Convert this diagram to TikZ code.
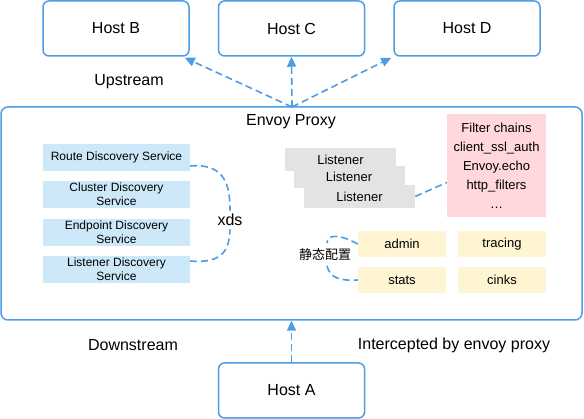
\documentclass[tikz,border=0pt]{standalone}
\usepackage{fontspec}
\setmainfont{Liberation Sans}
\newfontfamily\cjk{Noto Sans CJK SC}
\usepackage{tikz}
\usetikzlibrary{arrows, arrows.meta, positioning, shapes}
\definecolor{lineblue}{HTML}{4A9DE6}
\definecolor{dsblue}{HTML}{CCE8F9}
\definecolor{lsgray}{HTML}{E3E3E3}
\definecolor{fcpink}{HTML}{FFD7DC}
\definecolor{stylw}{HTML}{FFF5D2}

\begin{document}
\begin{tikzpicture}[x=1pt, y=-1pt,
  host/.style={draw=lineblue, line width=1.5pt, rounded corners=6pt, minimum width=146pt, minimum height=55pt, inner sep=0pt, font=\fontsize{16}{19}\selectfont},
  dsbox/.style={fill=dsblue, minimum width=147pt, minimum height=27pt, inner sep=0pt, align=center, font=\fontsize{12}{14}\selectfont},
  lsbox/.style={fill=lsgray, minimum width=111pt, minimum height=23pt, inner sep=0pt, font=\fontsize{13}{15}\selectfont},
  stbox/.style={fill=stylw, minimum width=88pt, minimum height=26pt, inner sep=0pt, font=\fontsize{13}{15}\selectfont},
  lbl/.style={font=\fontsize{16}{19}\selectfont},
  flow/.style={draw=lineblue, line width=1.6pt, dash pattern=on 7pt off 4pt},
  tip/.style={-{Triangle[length=10pt,width=9pt]}}]
\useasboundingbox (0,0) rectangle (584,419);

% hosts
\node (hb) [host] at (116,28.5) {Host B};
\node (hc) [host] at (291.5,28.5) {Host C};
\node (hd) [host] at (467,28.5) {Host D};
\node (ha) [host] at (291.5,390.5) {Host A};

% envoy
\node (envoy) [draw=lineblue, line width=1.5pt, rounded corners=7pt, minimum width=581pt, minimum height=213pt, inner sep=0pt] at (291.5,213.5) {};
\node (title) [lbl] at (291,122) {Envoy Proxy};
\coordinate (up) at (292,107);

\draw [flow, tip] (up) -- ([xshift=-5pt, yshift=-1pt]hb.south east);
\draw [flow, tip] (up) -- (hc.south);
\draw [flow, tip] (up) -- ([xshift=-2pt, yshift=-1pt]hd.south west);
\draw [flow, tip] (ha.north) -- (ha.north |- envoy.south);

\node (upl) [lbl] at (129,82) {Upstream};
\node (downl) [lbl] at (133,345) {Downstream};
\node (intl) [lbl] at (454,345) {Intercepted by envoy proxy};

% xds
\node (rds) [dsbox] at (116.5,157.5) {Route Discovery Service};
\node (cds) [dsbox] at (116.5,194.5) {Cluster Discovery\\Service};
\node (eds) [dsbox] at (116.5,232.5) {Endpoint Discovery\\Service};
\node (lds) [dsbox] at (116.5,269.5) {Listener Discovery\\Service};
\node (xds) [lbl] at (230,220) {xds};
\draw [flow] (190,166) .. controls (225,163) and (230,185) .. (xds.north);
\draw [flow] (190,261) .. controls (225,264) and (229,248) .. (xds.south);

% listeners
\node (ls1) [lsbox] at (340.5,159.5) {Listener};
\node (ls2) [lsbox, minimum height=22pt] at (349,177) {Listener};
\node (ls3) [lsbox] at (359.5,196.5) {Listener};
\node (fc) [fill=fcpink, minimum width=99pt, minimum height=103pt, inner sep=0pt, align=center, font=\fontsize{13}{19}\selectfont] at (496.5,165.5) {Filter chains\\client\_ssl\_auth\\Envoy.echo\\http\_filters\\\dots};
\draw [flow] (ls3.east) -- ([yshift=-17pt]fc.west);

% static
\node (admin) [stbox] at (402,244) {admin};
\node (tracing) [stbox] at (502,244) {tracing};
\node (stats) [stbox] at (402,280) {stats};
\node (cinks) [stbox] at (502,280) {cinks};
\node (static) [font=\fontsize{13}{15}\selectfont\cjk] at (325,255) {静态配置};
\draw [flow] (admin.west) .. controls (335,232) and (328,236) .. (327,243);
\draw [flow] (327,266) .. controls (330,278) and (340,281) .. (stats.west);
\end{tikzpicture}
\end{document}
